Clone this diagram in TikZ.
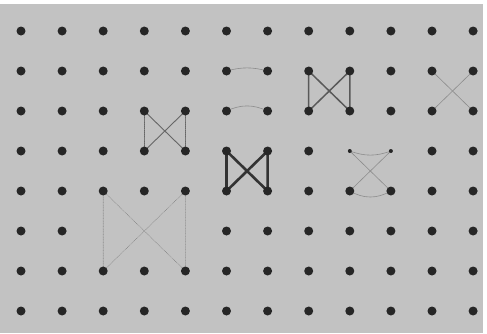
\documentclass[tikz,border=0pt]{standalone}
\usepackage{tikz}
\usetikzlibrary{calc}

\begin{document}
\begin{tikzpicture}[x=1pt,y=-1pt,
    peg/.style={fill=black!85},
    boldtie/.style={line width=2.6pt,black!80,line cap=round,line join=round},
    midtie/.style={line width=1.5pt,black!65,line cap=round,line join=round},
    thintie/.style={line width=0.9pt,black!60,line cap=round},
    fainttie/.style={line width=0.6pt,black!45,line cap=round}]
  \useasboundingbox (0,0) rectangle (487,333);
  \fill[black!24] (0,4) rectangle (483,333);
  % the board: 12 columns, 8 rows
  \foreach \i in {0,...,11}
    \foreach \j in {0,...,7}
      \coordinate (p-\i-\j) at ({21+41.1*\i},{31+40*\j});
  % bow ties
  \draw[boldtie] (p-5-3) -- (p-5-4) -- (p-6-3) -- (p-6-4) -- cycle;
  \draw[midtie] (p-7-1) -- (p-7-2) -- (p-8-1) -- (p-8-2) -- cycle;
  \draw[thintie] (p-4-3) -- (p-3-2);
  \draw[thintie] (p-3-3) -- (p-4-2);
  \draw[thintie,densely dotted] (p-3-2) -- (p-3-3);
  \draw[thintie,densely dotted] (p-4-2) -- (p-4-3);
  \draw[fainttie,densely dotted] (p-2-4) -- (p-2-6) -- (p-4-4) -- (p-4-6) -- cycle;
  % faint tries
  \draw[fainttie] (p-5-1) to[bend left=15] (p-6-1);
  \draw[fainttie] (p-5-2) to[bend left=25] (p-6-2);
  \draw[fainttie] (p-8-3) to[bend right=20] (p-9-3);
  \draw[fainttie] (p-8-4) -- (p-9-3);
  \draw[fainttie] (p-8-3) -- (p-9-4);
  \draw[fainttie] (p-8-4) to[bend right=30] (p-9-4);
  \draw[fainttie] (p-10-1) -- (p-11-2);
  \draw[fainttie] (p-11-1) -- (p-10-2);
  % pegs
  \foreach \j in {0,1,2,4,6,7}
    \foreach \i in {0,...,11}
      \fill[peg] (p-\i-\j) circle (4.5);
  \foreach \i in {0,...,7,10,11}
    \fill[peg] (p-\i-3) circle (4.5);
  \foreach \i in {8,9}
    \fill[peg] (p-\i-3) circle (2);
  \foreach \i in {0,1,5,6,...,11}
    \fill[peg] (p-\i-5) circle (4.5);
\end{tikzpicture}
\end{document}
